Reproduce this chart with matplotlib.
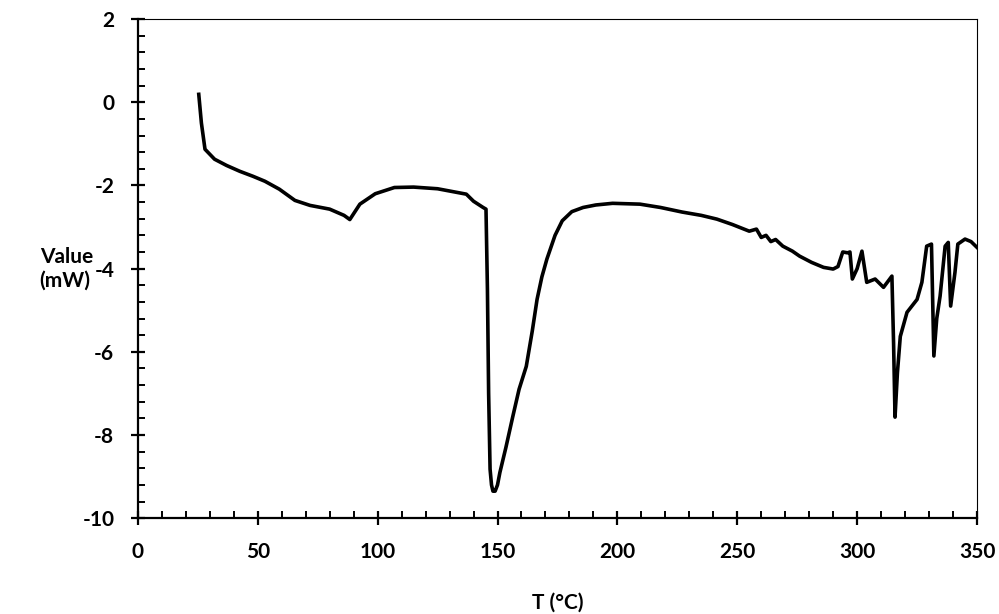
import matplotlib.pyplot as plt
from matplotlib.ticker import MultipleLocator

# DSC 曲线
temp = [25.4, 26.5, 28, 32, 37, 42.5, 48, 53, 59, 65.5, 71.8, 80, 86, 88.4,
        92.6, 99, 107, 115, 125, 137, 140, 144, 145.2, 145.8, 146.3, 146.9,
        147.5, 148.1, 149, 150, 151, 153.5, 156.4, 159, 162, 164.5, 166.5,
        168.5, 170.6, 174, 177, 181, 185.7, 191, 198, 209.4, 218, 227, 235,
        241.5, 248, 255, 258, 260, 262, 264, 266, 269, 273, 276, 281, 286,
        290, 292, 294, 296, 297, 298, 300, 302, 304, 307.5, 311, 314.5,
        315.2, 315.8, 316.8, 318, 320.8, 325, 327, 329, 331, 332, 333.2,
        334.6, 336.7, 338, 339, 340.8, 342, 345, 347.5, 350]
value = [0.19, -0.5, -1.13, -1.37, -1.52, -1.66, -1.78, -1.9, -2.09, -2.36,
         -2.48, -2.57, -2.72, -2.82, -2.45, -2.2, -2.05, -2.04, -2.08, -2.21,
         -2.38, -2.53, -2.57, -4.5, -7.0, -8.82, -9.2, -9.35, -9.35, -9.2,
         -8.9, -8.3, -7.55, -6.9, -6.35, -5.5, -4.74, -4.2, -3.77, -3.2,
         -2.85, -2.63, -2.53, -2.47, -2.43, -2.45, -2.53, -2.64, -2.72,
         -2.81, -2.94, -3.1, -3.05, -3.25, -3.2, -3.35, -3.3, -3.46, -3.58,
         -3.7, -3.85, -3.97, -4.01, -3.95, -3.6, -3.62, -3.6, -4.25, -4.0,
         -3.58, -4.33, -4.25, -4.45, -4.18, -5.8, -7.57, -6.5, -5.63, -5.05,
         -4.74, -4.33, -3.46, -3.41, -6.1, -5.2, -4.66, -3.46, -3.37, -4.9,
         -4.09, -3.41, -3.29, -3.35, -3.49]

plt.rcParams['font.family'] = ['Lato', 'DejaVu Sans']
plt.rcParams['font.weight'] = 'bold'
plt.rcParams['axes.unicode_minus'] = False

fig = plt.figure(figsize=(9.99, 6.14), dpi=100)
ax = fig.add_axes([0.138, 0.156, 0.840, 0.813])

ax.plot(temp, value, color='black', linewidth=2.6, solid_joinstyle='round')

ax.set_xlim(0, 350)
ax.set_ylim(-10, 2)
ax.xaxis.set_major_locator(MultipleLocator(50))
ax.xaxis.set_minor_locator(MultipleLocator(10))
ax.yaxis.set_major_locator(MultipleLocator(2))
ax.yaxis.set_minor_locator(MultipleLocator(0.4))

ax.spines['left'].set_linewidth(1.6)
ax.spines['bottom'].set_linewidth(1.6)
ax.spines['top'].set_linewidth(0.8)
ax.spines['right'].set_linewidth(0.8)

ax.tick_params(which='major', direction='inout', length=10, width=1.6,
               labelsize=15, pad=12)
ax.tick_params(which='minor', direction='in', length=5, width=1.4)
ax.tick_params(top=False, right=False, which='both')

ax.set_xlabel('T (°C)', fontsize=15, fontweight='bold', labelpad=22)
ax.set_ylabel('Value\n(mW)', fontsize=15, fontweight='bold', rotation=0,
              ha='left', va='center', multialignment='left')
ax.yaxis.set_label_coords(-0.117, 0.50)

fig.savefig('out.png', dpi=100)
